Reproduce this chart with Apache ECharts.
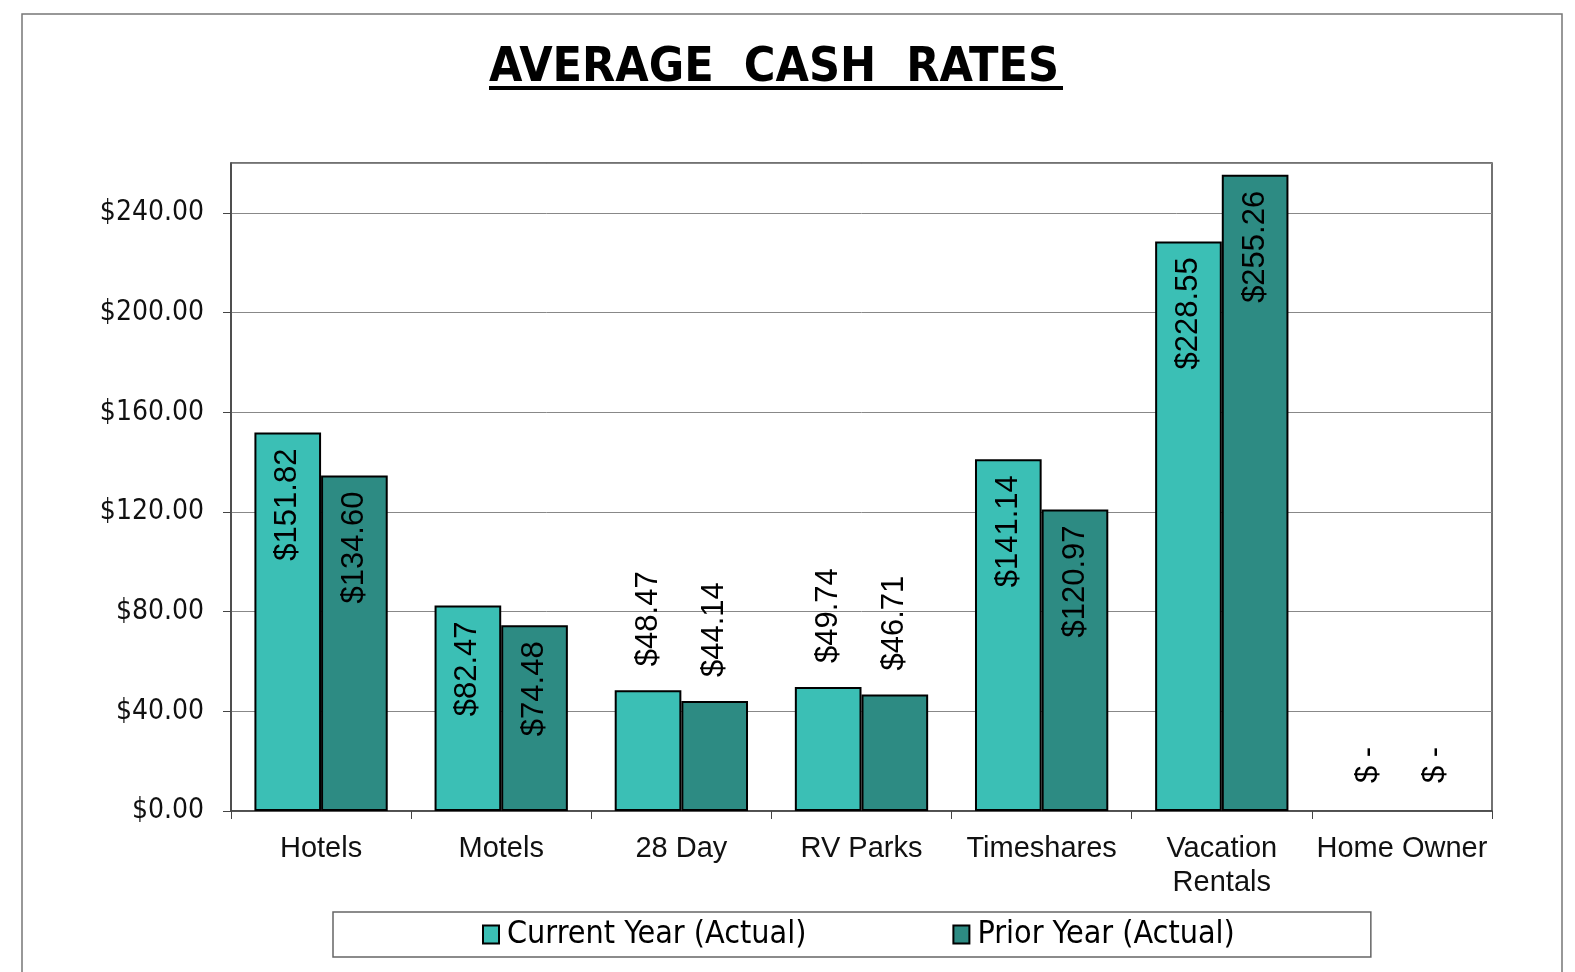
<!DOCTYPE html>
<html>
<head>
<meta charset="utf-8">
<title>Average Cash Rates</title>
<script src="https://cdn.jsdelivr.net/npm/echarts@6/dist/echarts.min.js"></script>
<style>
  html, body { margin: 0; padding: 0; background: #fff; }
  #chart { width: 1575px; height: 972px; }
</style>
</head>
<body>
<div id="chart"></div>
<script>
const categories = ['Hotels', 'Motels', '28 Day', 'RV Parks', 'Timeshares', 'Vacation\nRentals', 'Home Owner']
const currentYear = [151.82, 82.47, 48.47, 49.74, 141.14, 228.55, 0]
const priorYear = [134.60, 74.48, 44.14, 46.71, 120.97, 255.26, 0]
const seriesNames = ['Current Year (Actual)', 'Prior Year (Actual)']
const yTicks = { min: 0, max: 260, interval: 40 }

const COLORS = ['#3bbfb5', '#2d8b83']

function money(v) {
  return v === 0 ? '$ -' : '$' + v.toFixed(2)
}

// short bars get their label above the bar, tall ones inside at the top
function labelled(values) {
  return values.map(v => {
    const inside = v >= 60
    return {
      value: v,
      itemStyle: v === 0 ? { borderWidth: 0 } : undefined,
      label: inside
        ? { position: 'insideTop', align: 'right', distance: 16 }
        : { position: 'top', align: 'left', distance: v === 0 ? 28 : 24 }
    }
  })
}

function barSeries(name, values, color) {
  return {
    type: 'bar',
    name,
    data: labelled(values),
    barGap: '0%',
    barCategoryGap: '26%',
    itemStyle: { color, borderColor: '#000', borderWidth: 2 },
    label: {
      show: true,
      rotate: 90,
      verticalAlign: 'middle',
      formatter: p => money(p.value),
      color: '#000',
      fontFamily: 'Liberation Sans',
      fontSize: 31
    }
  }
}

const chart = echarts.init(document.getElementById('chart'))
chart.setOption({
  animation: false,
  backgroundColor: '#fff',
  title: {
    text: 'AVERAGE  CASH  RATES',
    left: 489,
    top: 45,
    padding: 0,
    textStyle: { fontFamily: 'DejaVu Sans Condensed', fontWeight: 'bold', fontSize: 48, color: '#000' }
  },
  graphic: [
    { type: 'rect', silent: true, shape: { x: 22, y: 14, width: 1540, height: 1000 },
      style: { fill: 'none', stroke: '#777', lineWidth: 1.5 } },
    { type: 'rect', silent: true, shape: { x: 489, y: 86, width: 574, height: 4 },
      style: { fill: '#000' } }
  ],
  legend: {
    data: seriesNames,
    left: 333,
    top: 912,
    orient: 'horizontal',
    icon: 'rect',
    itemWidth: 16,
    itemHeight: 18,
    itemGap: 146,
    padding: [6, 136, 6, 149],
    borderColor: '#666',
    borderWidth: 1.5,
    itemStyle: { borderColor: '#000', borderWidth: 2 },
    textStyle: {
      fontFamily: 'DejaVu Sans Condensed', fontSize: 32, lineHeight: 33,
      color: '#000', padding: [0, 0, 0, 3]
    }
  },
  grid: {
    left: 231, right: 83, top: 163, bottom: 161,
    show: true, borderColor: '#444', borderWidth: 1.5
  },
  xAxis: {
    type: 'category',
    data: categories,
    axisLine: { lineStyle: { color: '#444', width: 1.5 } },
    axisTick: { show: true, length: 8, lineStyle: { color: '#444' } },
    axisLabel: {
      interval: 0,
      margin: 21,
      color: '#111',
      fontFamily: 'Liberation Sans',
      fontSize: 29,
      lineHeight: 34
    }
  },
  yAxis: {
    type: 'value',
    min: yTicks.min,
    max: yTicks.max,
    interval: yTicks.interval,
    axisLine: { show: true, lineStyle: { color: '#444', width: 1.5 } },
    axisTick: { show: true, length: 8, lineStyle: { color: '#444' } },
    splitLine: { lineStyle: { color: '#888', width: 1 } },
    axisLabel: {
      showMaxLabel: false,
      margin: 27,
      color: '#111',
      fontFamily: 'DejaVu Sans Condensed',
      fontSize: 28,
      formatter: v => '$' + v.toFixed(2)
    }
  },
  series: [
    barSeries(seriesNames[0], currentYear, COLORS[0]),
    barSeries(seriesNames[1], priorYear, COLORS[1])
  ]
})
</script>
</body>
</html>
